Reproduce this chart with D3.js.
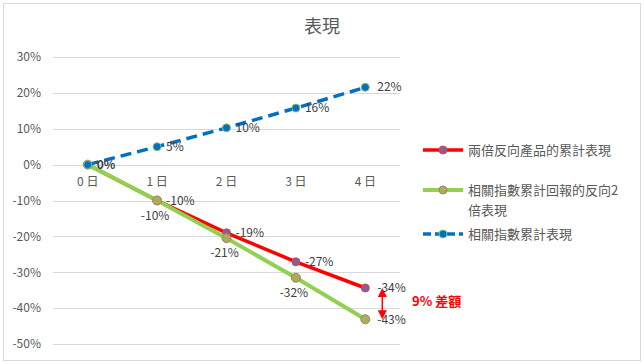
<!DOCTYPE html>
<html><head><meta charset="utf-8">
<script src="https://cdn.jsdelivr.net/npm/d3@7/dist/d3.min.js"></script>
<style>body{margin:0;background:#fff;} svg{display:block;font-family:"Noto Sans CJK TC","Noto Sans",sans-serif;}</style>
</head><body><svg id="c" width="644" height="364"></svg>
<script>
const categories = ["0 日","1 日","2 日","3 日","4 日"];
const redValues = [0, -0.10, -0.19, -0.271, -0.3439];
const greenValues = [0, -0.10, -0.205, -0.31525, -0.431];
const blueValues = [0, 0.05, 0.1025, 0.157625, 0.2155];
const yTicks = [0.3,0.2,0.1,0,-0.1,-0.2,-0.3,-0.4,-0.5];
const seriesNames = ["兩倍反向產品的累計表現","相關指數累計回報的反向2倍表現","相關指數累計表現"];
const title = "表現";
const gapLabel = "9% 差額";

const svg = d3.select("#c");
svg.append("rect").attr("x",3.5).attr("y",3.5).attr("width",637).attr("height",357)
  .attr("fill","#fff").attr("stroke","#d9d9d9");

const x = d3.scaleBand().domain(categories).range([53,400]);
const y = d3.scaleLinear().domain([-0.5,0.3]).range([344,57]);
const cx = d => x(d) + x.bandwidth()/2;
const f0 = d3.format(".0%");
const fmt = v => f0(v).replace("\u2212","-");

// gridlines
svg.append("g").selectAll("line").data(yTicks).join("line")
  .attr("x1",53).attr("x2",400).attr("y1",d=>Math.round(y(d))+0.5).attr("y2",d=>Math.round(y(d))+0.5)
  .attr("stroke","#d9d9d9").attr("stroke-width",1);

// y labels
const yAxis = svg.append("g").attr("transform","translate(53,0)")
  .call(d3.axisLeft(y).tickValues(yTicks).tickFormat(fmt).tickSize(0).tickPadding(12));
yAxis.select(".domain").remove();
yAxis.selectAll("text").attr("fill","#595959").attr("font-size",12).attr("font-family","Noto Sans CJK TC");

// x labels
const xAxis = svg.append("g").attr("transform",`translate(0,${y(0)})`)
  .call(d3.axisBottom(x).tickSize(0).tickPadding(13));
xAxis.select(".domain").remove();
xAxis.selectAll("text").attr("fill","#595959").attr("font-size",12).attr("font-family","Noto Sans CJK TC");

// title
svg.append("text").attr("x",322).attr("y",33).attr("text-anchor","middle")
  .attr("font-size",18).attr("fill","#595959").text(title);

const line = d3.line().x((d,i)=>cx(categories[i])).y(d=>y(d));

function markers(vals, fill, stroke, r, skipFirst){
  svg.append("g").selectAll("circle").data(vals.map((v,i)=>({v,i})).filter(d=>!(skipFirst&&d.i===0))).join("circle")
    .attr("cx",d=>cx(categories[d.i])).attr("cy",d=>y(d.v)).attr("r",r)
    .attr("fill",fill).attr("stroke",stroke).attr("stroke-width",1);
}

// red
svg.append("path").datum(redValues).attr("d",line).attr("fill","none")
  .attr("stroke","#FF0000").attr("stroke-width",3.5);
markers(redValues, "#8e5a9a", "#c0504d", 4, true);
// green
svg.append("path").datum(greenValues).attr("d",line).attr("fill","none")
  .attr("stroke","#92D050").attr("stroke-width",4);
markers(greenValues, "#b0a865", "#9a8a4a", 4.5, false);
// blue dashed
svg.append("path").datum(blueValues).attr("d",line).attr("fill","none")
  .attr("stroke","#0070C0").attr("stroke-width",3.5).attr("stroke-dasharray","11,6");
markers(blueValues, "#0070C0", "#8fbf6a", 4, false);

const lab = svg.append("g").attr("font-size",12).attr("fill","#404040");
// blue labels (right)
blueValues.forEach((v,i)=>{
  lab.append("text").attr("x",cx(categories[i])+ (i===4?12:9)).attr("y",y(v)+4)
    .attr("font-weight",i===0?"bold":"normal").text(fmt(v));
});
// red labels (right)
redValues.forEach((v,i)=>{
  if(i===0) return;
  lab.append("text").attr("x",cx(categories[i])+(i===4?12:9)).attr("y",y(v)+4).text(fmt(v));
});
// green labels (below, last right)
greenValues.forEach((v,i)=>{
  if(i===0) return;
  if(i===4){
    lab.append("text").attr("x",cx(categories[i])+12).attr("y",y(v)+5).text(fmt(v));
  } else {
    lab.append("text").attr("x",cx(categories[i])-2).attr("y",y(v)+19).attr("text-anchor","middle").text(fmt(v));
  }
});

// gap arrow
const ax = cx(categories[4]) + 17;
const yt = y(redValues[4]), yb = y(greenValues[4]);
svg.append("line").attr("x1",ax).attr("x2",ax).attr("y1",yt+6).attr("y2",yb-6)
  .attr("stroke","#FF0000").attr("stroke-width",1.5);
svg.append("path").attr("d",`M${ax-4.5},${yt+9}L${ax},${yt}L${ax+4.5},${yt+9}Z`).attr("fill","#FF0000");
svg.append("path").attr("d",`M${ax-4.5},${yb-9}L${ax},${yb}L${ax+4.5},${yb-9}Z`).attr("fill","#FF0000");
svg.append("text").attr("x",412).attr("y",306).attr("font-size",13).attr("font-weight","bold")
  .attr("fill","#FF0000").text(gapLabel);

// legend
const leg = svg.append("g");
const legY = [150,190,234];
const legStyle = [
  {stroke:"#FF0000", w:3.5, dash:null, fill:"#8e5a9a", ms:"#c0504d"},
  {stroke:"#92D050", w:4, dash:null, fill:"#b0a865", ms:"#9a8a4a"},
  {stroke:"#0070C0", w:3.5, dash:"8,4", fill:"#0070C0", ms:"#8fbf6a"}
];
seriesNames.forEach((n,i)=>{
  const s = legStyle[i];
  leg.append("line").attr("x1",423).attr("x2",463).attr("y1",legY[i]).attr("y2",legY[i])
    .attr("stroke",s.stroke).attr("stroke-width",s.w).attr("stroke-dasharray",s.dash);
  leg.append("circle").attr("cx",443).attr("cy",legY[i]).attr("r",4).attr("fill",s.fill).attr("stroke",s.ms);
});
leg.append("text").attr("x",468).attr("y",155).attr("font-size",13).attr("fill","#595959").text(seriesNames[0]);
leg.append("text").attr("x",468).attr("y",195).attr("font-size",13).attr("fill","#595959").text("相關指數累計回報的反向2");
leg.append("text").attr("x",468).attr("y",215).attr("font-size",13).attr("fill","#595959").text("倍表現");
leg.append("text").attr("x",468).attr("y",239).attr("font-size",13).attr("fill","#595959").text(seriesNames[2]);
</script></body></html>
